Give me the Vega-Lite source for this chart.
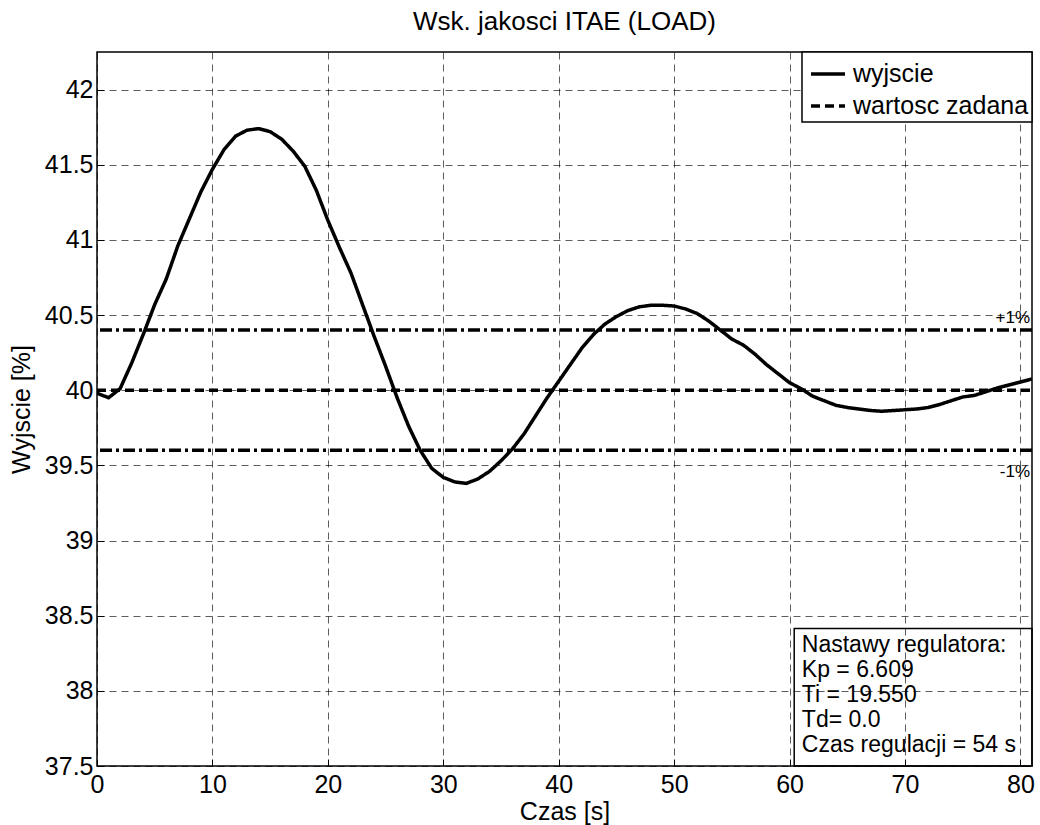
{
  "$schema": "https://vega.github.io/schema/vega-lite/v6.json",
  "width": 935,
  "height": 714,
  "autosize": {"type": "none"},
  "padding": {"left": 97, "top": 52, "right": 8, "bottom": 59},
  "background": "white",
  "title": {"text": "Wsk. jakosci ITAE (LOAD)", "fontSize": 26, "font": "Liberation Sans", "fontWeight": "normal", "color": "black", "anchor": "middle", "offset": 16},
  "config": {
    "view": {"stroke": "black", "strokeWidth": 1.5},
    "font": "Liberation Sans",
    "axis": {
      "grid": true, "gridColor": "#000", "gridDash": [7, 5], "gridWidth": 0.8, "gridOpacity": 0.8,
      "domain": false, "tickColor": "#000", "tickSize": -7, "tickWidth": 1,
      "labelFont": "Liberation Sans", "labelFontSize": 25, "labelColor": "#000",
      "titleFont": "Liberation Sans", "titleFontSize": 25, "titleFontWeight": "normal", "titleColor": "#000",
      "labelFlush": false, "labelOverlap": false
    },
    "legend": {"strokeColor": "black", "strokeWidth": 1.5, "fillColor": "white", "padding": 3, "cornerRadius": 0}
  },
  "layer": [
    {
      "data": {"values": [{"v": 40.4}, {"v": 39.6}]},
      "mark": {"type": "rule", "color": "black", "strokeWidth": 3.5, "strokeDash": [12, 4, 3, 4]},
      "encoding": {
        "y": {"field": "v", "type": "quantitative", "scale": {"domain": [37.5, 42.25], "nice": false, "zero": false}}
      }
    },
    {
      "data": {"values": [
        {"t": 0, "y": 40, "series": "wartosc zadana"},
        {"t": 81, "y": 40, "series": "wartosc zadana"},
        {"t": 0, "y": 39.98, "series": "wyjscie"},
        {"t": 1, "y": 39.95, "series": "wyjscie"},
        {"t": 2, "y": 40.01, "series": "wyjscie"},
        {"t": 3, "y": 40.18, "series": "wyjscie"},
        {"t": 4, "y": 40.37, "series": "wyjscie"},
        {"t": 5, "y": 40.57, "series": "wyjscie"},
        {"t": 6, "y": 40.74, "series": "wyjscie"},
        {"t": 7, "y": 40.96, "series": "wyjscie"},
        {"t": 8, "y": 41.14, "series": "wyjscie"},
        {"t": 9, "y": 41.32, "series": "wyjscie"},
        {"t": 10, "y": 41.47, "series": "wyjscie"},
        {"t": 11, "y": 41.6, "series": "wyjscie"},
        {"t": 12, "y": 41.69, "series": "wyjscie"},
        {"t": 13, "y": 41.73, "series": "wyjscie"},
        {"t": 14, "y": 41.74, "series": "wyjscie"},
        {"t": 15, "y": 41.72, "series": "wyjscie"},
        {"t": 16, "y": 41.67, "series": "wyjscie"},
        {"t": 17, "y": 41.59, "series": "wyjscie"},
        {"t": 18, "y": 41.49, "series": "wyjscie"},
        {"t": 19, "y": 41.33, "series": "wyjscie"},
        {"t": 20, "y": 41.13, "series": "wyjscie"},
        {"t": 21, "y": 40.95, "series": "wyjscie"},
        {"t": 22, "y": 40.78, "series": "wyjscie"},
        {"t": 23, "y": 40.57, "series": "wyjscie"},
        {"t": 24, "y": 40.36, "series": "wyjscie"},
        {"t": 25, "y": 40.16, "series": "wyjscie"},
        {"t": 26, "y": 39.95, "series": "wyjscie"},
        {"t": 27, "y": 39.76, "series": "wyjscie"},
        {"t": 28, "y": 39.6, "series": "wyjscie"},
        {"t": 29, "y": 39.48, "series": "wyjscie"},
        {"t": 30, "y": 39.42, "series": "wyjscie"},
        {"t": 31, "y": 39.39, "series": "wyjscie"},
        {"t": 32, "y": 39.38, "series": "wyjscie"},
        {"t": 33, "y": 39.41, "series": "wyjscie"},
        {"t": 34, "y": 39.46, "series": "wyjscie"},
        {"t": 35, "y": 39.53, "series": "wyjscie"},
        {"t": 36, "y": 39.61, "series": "wyjscie"},
        {"t": 37, "y": 39.71, "series": "wyjscie"},
        {"t": 38, "y": 39.83, "series": "wyjscie"},
        {"t": 39, "y": 39.95, "series": "wyjscie"},
        {"t": 40, "y": 40.06, "series": "wyjscie"},
        {"t": 41, "y": 40.17, "series": "wyjscie"},
        {"t": 42, "y": 40.28, "series": "wyjscie"},
        {"t": 43, "y": 40.37, "series": "wyjscie"},
        {"t": 44, "y": 40.44, "series": "wyjscie"},
        {"t": 45, "y": 40.49, "series": "wyjscie"},
        {"t": 46, "y": 40.53, "series": "wyjscie"},
        {"t": 47, "y": 40.555, "series": "wyjscie"},
        {"t": 48, "y": 40.565, "series": "wyjscie"},
        {"t": 49, "y": 40.565, "series": "wyjscie"},
        {"t": 50, "y": 40.56, "series": "wyjscie"},
        {"t": 51, "y": 40.54, "series": "wyjscie"},
        {"t": 52, "y": 40.51, "series": "wyjscie"},
        {"t": 53, "y": 40.46, "series": "wyjscie"},
        {"t": 54, "y": 40.4, "series": "wyjscie"},
        {"t": 55, "y": 40.34, "series": "wyjscie"},
        {"t": 56, "y": 40.3, "series": "wyjscie"},
        {"t": 57, "y": 40.24, "series": "wyjscie"},
        {"t": 58, "y": 40.17, "series": "wyjscie"},
        {"t": 59, "y": 40.11, "series": "wyjscie"},
        {"t": 60, "y": 40.05, "series": "wyjscie"},
        {"t": 61, "y": 40.01, "series": "wyjscie"},
        {"t": 62, "y": 39.96, "series": "wyjscie"},
        {"t": 63, "y": 39.93, "series": "wyjscie"},
        {"t": 64, "y": 39.9, "series": "wyjscie"},
        {"t": 65, "y": 39.885, "series": "wyjscie"},
        {"t": 66, "y": 39.875, "series": "wyjscie"},
        {"t": 67, "y": 39.865, "series": "wyjscie"},
        {"t": 68, "y": 39.86, "series": "wyjscie"},
        {"t": 69, "y": 39.865, "series": "wyjscie"},
        {"t": 70, "y": 39.87, "series": "wyjscie"},
        {"t": 71, "y": 39.875, "series": "wyjscie"},
        {"t": 72, "y": 39.885, "series": "wyjscie"},
        {"t": 73, "y": 39.905, "series": "wyjscie"},
        {"t": 74, "y": 39.93, "series": "wyjscie"},
        {"t": 75, "y": 39.955, "series": "wyjscie"},
        {"t": 76, "y": 39.965, "series": "wyjscie"},
        {"t": 77, "y": 39.99, "series": "wyjscie"},
        {"t": 78, "y": 40.015, "series": "wyjscie"},
        {"t": 79, "y": 40.035, "series": "wyjscie"},
        {"t": 80, "y": 40.055, "series": "wyjscie"},
        {"t": 81, "y": 40.075, "series": "wyjscie"}
      ]},
      "mark": {"type": "line", "color": "black", "strokeWidth": 3.5, "clip": true},
      "encoding": {
        "x": {"field": "t", "type": "quantitative", "scale": {"domain": [0, 81], "nice": false, "zero": false},
              "axis": {"values": [0, 10, 20, 30, 40, 50, 60, 70, 80], "title": "Czas [s]", "labelPadding": 13, "titlePadding": 2}},
        "y": {"field": "y", "type": "quantitative", "scale": {"domain": [37.5, 42.25], "nice": false, "zero": false},
              "axis": {"values": [37.5, 38, 38.5, 39, 39.5, 40, 40.5, 41, 41.5, 42], "format": "~g", "title": "Wyjscie [%]", "labelPadding": 11, "titlePadding": 10}},
        "strokeDash": {"field": "series", "type": "nominal",
          "scale": {"domain": ["wyjscie", "wartosc zadana"], "range": [[1, 0], [9, 5]]},
          "legend": {"title": null, "orient": "top-right", "offset": 0, "symbolType": "stroke", "symbolSize": 1156, "symbolOffset": 4,
                     "symbolStrokeWidth": 3.5, "symbolStrokeColor": "black", "labelFontSize": 25, "labelFont": "Liberation Sans",
                     "labelColor": "black", "rowPadding": 0, "labelOffset": 6, "labelLimit": 400}}
      }
    },
    {
      "data": {"values": [{"label": "+1%"}]},
      "mark": {"type": "text", "align": "right", "baseline": "bottom", "fontSize": 17, "font": "Liberation Sans", "color": "black", "dx": -2, "dy": -3},
      "encoding": {
        "text": {"field": "label"},
        "x": {"datum": 81, "type": "quantitative"},
        "y": {"datum": 40.4, "type": "quantitative"}
      }
    },
    {
      "data": {"values": [{"label": "-1%"}]},
      "mark": {"type": "text", "align": "right", "baseline": "top", "fontSize": 17, "font": "Liberation Sans", "color": "black", "dx": -2, "dy": 14},
      "encoding": {
        "text": {"field": "label"},
        "x": {"datum": 81, "type": "quantitative"},
        "y": {"datum": 39.6, "type": "quantitative"}
      }
    },
    {
      "data": {"values": [{}]},
      "mark": {"type": "rect", "filled": false, "stroke": "black", "strokeWidth": 1.5},
      "encoding": {
        "x": {"datum": 60.4, "type": "quantitative"},
        "x2": {"datum": 81},
        "y": {"datum": 38.414, "type": "quantitative"},
        "y2": {"datum": 37.5}
      }
    },
    {
      "data": {"values": [{"lines": ["Nastawy regulatora:", "Kp = 6.609", "Ti = 19.550", "Td= 0.0", "Czas regulacji = 54 s"]}]},
      "mark": {"type": "text", "align": "left", "baseline": "top", "fontSize": 23, "lineHeight": 25, "font": "Liberation Sans", "color": "black"},
      "encoding": {
        "text": {"field": "lines"},
        "x": {"datum": 61.06, "type": "quantitative"},
        "y": {"datum": 38.375, "type": "quantitative"}
      }
    }
  ]
}
